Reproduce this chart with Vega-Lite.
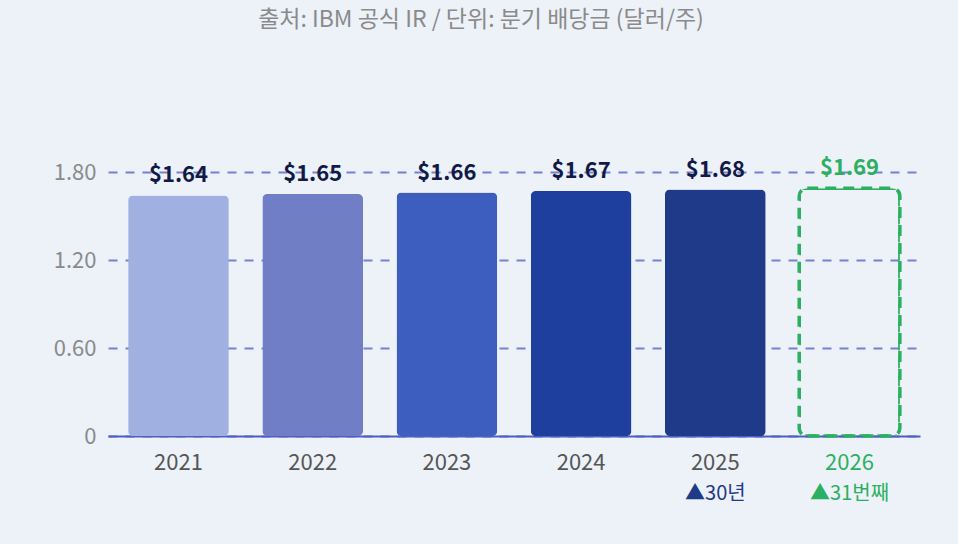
{
  "$schema": "https://vega.github.io/schema/vega-lite/v6.json",
  "autosize": {"type": "none"},
  "width": 812,
  "height": 352,
  "padding": {"left": 108, "top": 84, "right": 38, "bottom": 108},
  "background": "#edf1f8",
  "config": {
    "view": {"stroke": null},
    "font": "Noto Sans CJK KR"
  },
  "title": {
    "text": "출처: IBM 공식 IR / 단위: 분기 배당금 (달러/주)",
    "font": "Noto Sans CJK KR",
    "fontSize": 23,
    "fontWeight": "normal",
    "color": "#8a8a8a",
    "anchor": "middle",
    "frame": "group",
    "dx": -33,
    "offset": 52
  },
  "data": {
    "values": [
      {"year": "2021", "value": 1.64, "label": "$1.64", "note": "", "kind": "actual"},
      {"year": "2022", "value": 1.65, "label": "$1.65", "note": "", "kind": "actual"},
      {"year": "2023", "value": 1.66, "label": "$1.66", "note": "", "kind": "actual"},
      {"year": "2024", "value": 1.67, "label": "$1.67", "note": "", "kind": "actual"},
      {"year": "2025", "value": 1.68, "label": "$1.68", "note": "▲30년", "kind": "actual"},
      {"year": "2026", "value": 1.69, "label": "$1.69", "note": "▲31번째", "kind": "forecast"}
    ]
  },
  "encoding": {
    "x": {
      "field": "year",
      "type": "nominal",
      "sort": null,
      "scale": {"paddingInner": 0.25, "paddingOuter": 0.15},
      "axis": {
        "title": null,
        "labelAngle": 0,
        "labelFontSize": 22,
        "labelColor": {"condition": {"test": "datum.value == '2026'", "value": "#2bb061"}, "value": "#555555"},
        "labelPadding": 16,
        "ticks": false,
        "domainColor": "#4b5fc4",
        "domainWidth": 2
      }
    },
    "y": {
      "field": "value",
      "type": "quantitative",
      "scale": {"domain": [0, 2.4], "nice": false},
      "axis": {
        "title": null,
        "values": [0, 0.6, 1.2, 1.8],
        "labelExpr": "datum.value == 0 ? '0' : format(datum.value, '.2f')",
        "labelFontSize": 22,
        "labelColor": "#8a8a8a",
        "labelPadding": 12,
        "ticks": false,
        "domain": false,
        "gridColor": "#7582d2",
        "gridWidth": 2,
        "gridDash": [9, 8]
      }
    }
  },
  "layer": [
    {
      "transform": [{"filter": "datum.kind == 'actual'"}],
      "mark": {"type": "bar", "cornerRadius": 5},
      "encoding": {
        "color": {
          "field": "year",
          "type": "nominal",
          "scale": {
            "domain": ["2021", "2022", "2023", "2024", "2025"],
            "range": ["#a0b0e1", "#6f7ec5", "#3e5ebf", "#1f3f9f", "#1f3a89"]
          },
          "legend": null
        }
      }
    },
    {
      "transform": [{"filter": "datum.kind == 'forecast'"}],
      "mark": {"type": "bar", "fill": null, "fillOpacity": 0, "stroke": "#2bb061", "strokeWidth": 3.5, "strokeDash": [11, 7], "cornerRadius": 8}
    },
    {
      "mark": {"type": "text", "baseline": "alphabetic", "dy": -13, "fontSize": 22, "fontWeight": "bold"},
      "encoding": {
        "text": {"field": "label"},
        "color": {"condition": {"test": "datum.kind == 'forecast'", "value": "#2bb061"}, "value": "#111a45"}
      }
    },
    {
      "mark": {"type": "text", "baseline": "middle", "dy": 58, "fontSize": 20},
      "encoding": {
        "y": {"datum": 0, "type": "quantitative"},
        "text": {"field": "note"},
        "color": {"condition": {"test": "datum.kind == 'forecast'", "value": "#2bb061"}, "value": "#1f3a89"}
      }
    }
  ]
}
